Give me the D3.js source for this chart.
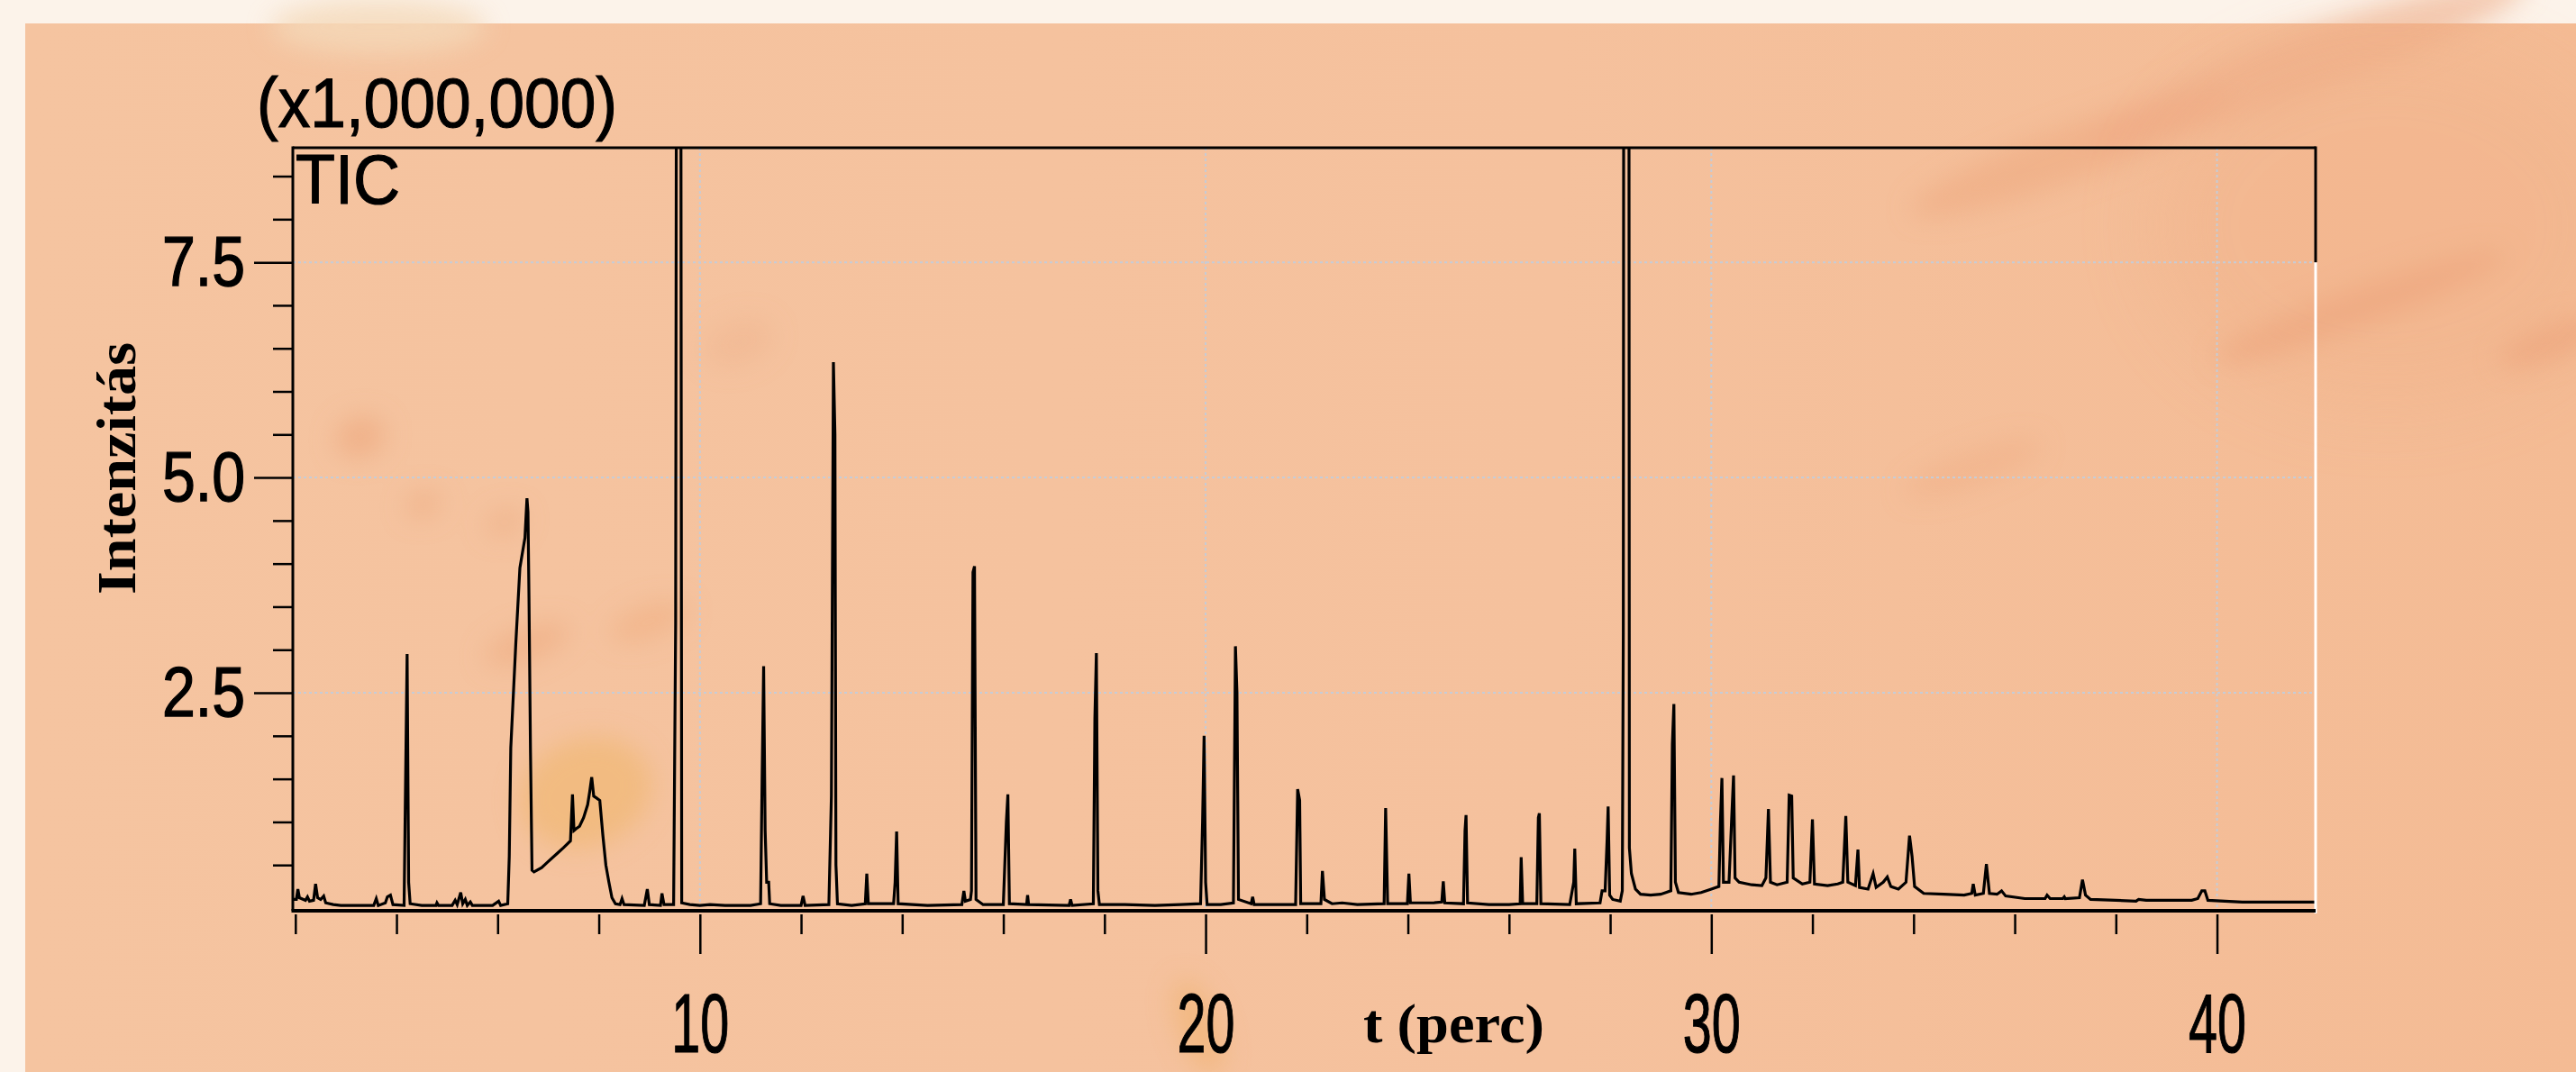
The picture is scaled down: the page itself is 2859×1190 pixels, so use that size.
<!DOCTYPE html>
<html>
<head>
<meta charset="utf-8">
<script src="https://cdn.jsdelivr.net/npm/d3@7"></script>
<style>
  html, body { margin: 0; padding: 0; background: #fcf3ea; }
  svg { display: block; }
</style>
</head>
<body>
<svg id="chart" width="2859" height="1190"></svg>
<script>
// ========= Data: time in minutes, intensity in x1,000,000
const trace = [
  [1.95, 0.10], [2.02, 0.10], [2.05, 0.22], [2.08, 0.12], [2.20, 0.09], [2.24, 0.13], [2.28, 0.08],
  [2.36, 0.09], [2.40, 0.28], [2.44, 0.12], [2.50, 0.10], [2.56, 0.14], [2.60, 0.06], [2.75, 0.04],
  [2.90, 0.03], [3.20, 0.03], [3.55, 0.03], [3.60, 0.11], [3.64, 0.03], [3.78, 0.06], [3.82, 0.13],
  [3.88, 0.15], [3.93, 0.04], [4.15, 0.03], [4.18, 1.50], [4.21, 2.95], [4.24, 0.30], [4.27, 0.05],
  [4.50, 0.03], [4.78, 0.03], [4.80, 0.06], [4.83, 0.03], [5.10, 0.03], [5.16, 0.09], [5.20, 0.04],
  [5.27, 0.18], [5.31, 0.05], [5.36, 0.10], [5.40, 0.03], [5.46, 0.07], [5.50, 0.03], [5.90, 0.03],
  [6.02, 0.08], [6.06, 0.03], [6.20, 0.05], [6.23, 0.60], [6.26, 1.86], [6.36, 3.08], [6.44, 3.95],
  [6.54, 4.30], [6.58, 4.76], [6.60, 4.60], [6.62, 3.60], [6.65, 1.80], [6.68, 0.44], [6.72, 0.42],
  [6.87, 0.47], [7.00, 0.54], [7.17, 0.63], [7.30, 0.70], [7.44, 0.78], [7.48, 1.32], [7.51, 0.90],
  [7.55, 0.92], [7.62, 0.95], [7.70, 1.05], [7.78, 1.20], [7.82, 1.35], [7.86, 1.52], [7.90, 1.30],
  [7.95, 1.28], [8.02, 1.25], [8.08, 0.85], [8.14, 0.50], [8.20, 0.30], [8.26, 0.12], [8.33, 0.05],
  [8.42, 0.04], [8.46, 0.11], [8.50, 0.04], [8.90, 0.03], [8.96, 0.22], [9.00, 0.04], [9.22, 0.03],
  [9.25, 0.17], [9.29, 0.04], [9.48, 0.04], [9.52, 3.30], [9.54, 12], [9.62, 12], [9.64, 0.06],
  [9.80, 0.04], [10.00, 0.03], [10.20, 0.04], [10.50, 0.03], [11.00, 0.03], [11.20, 0.05], [11.23, 1.50],
  [11.26, 2.81], [11.29, 0.90], [11.32, 0.30], [11.36, 0.30], [11.38, 0.05], [11.60, 0.03], [12.00, 0.03],
  [12.04, 0.14], [12.08, 0.03], [12.55, 0.04], [12.60, 1.30], [12.64, 6.34], [12.67, 5.50], [12.69, 0.50],
  [12.72, 0.05], [13.00, 0.03], [13.27, 0.05], [13.30, 0.40], [13.33, 0.05], [13.83, 0.05], [13.86, 0.30],
  [13.89, 0.89], [13.92, 0.05], [14.50, 0.03], [15.18, 0.04], [15.22, 0.20], [15.25, 0.08], [15.35, 0.10],
  [15.37, 0.20], [15.40, 3.90], [15.43, 3.97], [15.46, 0.10], [15.60, 0.04], [16.00, 0.04], [16.06, 1.00],
  [16.09, 1.32], [16.12, 0.05], [16.46, 0.04], [16.48, 0.15], [16.50, 0.04], [17.30, 0.03], [17.33, 0.10],
  [17.36, 0.03], [17.78, 0.05], [17.81, 2.20], [17.84, 2.96], [17.87, 0.20], [17.90, 0.04], [18.40, 0.04],
  [19.00, 0.03], [19.50, 0.04], [19.90, 0.05], [19.94, 1.00], [19.97, 2.00], [20.00, 0.30], [20.03, 0.04],
  [20.30, 0.04], [20.55, 0.06], [20.59, 3.04], [20.62, 2.50], [20.65, 0.10], [20.90, 0.05], [20.93, 0.13],
  [20.96, 0.04], [21.78, 0.04], [21.82, 1.38], [21.86, 1.25], [21.88, 0.05], [22.28, 0.05], [22.31, 0.43],
  [22.35, 0.10], [22.50, 0.05], [22.70, 0.06], [23.00, 0.04], [23.53, 0.05], [23.56, 1.16], [23.60, 0.05],
  [23.99, 0.05], [24.02, 0.40], [24.05, 0.06], [24.50, 0.06], [24.67, 0.07], [24.70, 0.31], [24.73, 0.06],
  [25.10, 0.05], [25.13, 0.90], [25.15, 1.08], [25.18, 0.06], [25.60, 0.04], [26.00, 0.04], [26.22, 0.05],
  [26.24, 0.59], [26.27, 0.05], [26.55, 0.05], [26.58, 1.05], [26.60, 1.10], [26.63, 0.05], [27.20, 0.04],
  [27.28, 0.30], [27.30, 0.69], [27.33, 0.05], [27.80, 0.06], [27.84, 0.20], [27.90, 0.20], [27.94, 0.80],
  [27.96, 1.18], [27.99, 0.15], [28.05, 0.10], [28.20, 0.08], [28.24, 0.20], [28.26, 3.20], [28.27, 12],
  [28.37, 12], [28.38, 0.70], [28.42, 0.40], [28.50, 0.22], [28.60, 0.16], [28.80, 0.15], [29.00, 0.16],
  [29.20, 0.20], [29.23, 1.90], [29.26, 2.37], [29.29, 0.30], [29.35, 0.18], [29.60, 0.16], [29.80, 0.18],
  [30.00, 0.22], [30.15, 0.25], [30.18, 1.00], [30.21, 1.51], [30.24, 0.30], [30.35, 0.30], [30.40, 1.00],
  [30.44, 1.54], [30.47, 0.35], [30.55, 0.30], [30.80, 0.27], [31.00, 0.26], [31.08, 0.35], [31.13, 1.15],
  [31.17, 0.30], [31.30, 0.27], [31.50, 0.30], [31.54, 1.31], [31.59, 1.30], [31.62, 0.35], [31.80, 0.28],
  [31.95, 0.30], [32.00, 1.03], [32.04, 0.28], [32.30, 0.26], [32.50, 0.28], [32.60, 0.30], [32.66, 1.07],
  [32.70, 0.30], [32.85, 0.26], [32.90, 0.68], [32.93, 0.24], [33.10, 0.22], [33.20, 0.40], [33.26, 0.24],
  [33.40, 0.30], [33.48, 0.36], [33.55, 0.25], [33.70, 0.22], [33.85, 0.30], [33.92, 0.84], [33.97, 0.60],
  [34.02, 0.25], [34.20, 0.17], [34.60, 0.16], [35.00, 0.15], [35.15, 0.17], [35.18, 0.28], [35.22, 0.15],
  [35.38, 0.17], [35.44, 0.51], [35.50, 0.17], [35.65, 0.16], [35.74, 0.20], [35.82, 0.14], [36.20, 0.11],
  [36.60, 0.11], [36.64, 0.15], [36.70, 0.11], [36.95, 0.11], [36.98, 0.13], [37.00, 0.11], [37.28, 0.12],
  [37.34, 0.33], [37.40, 0.15], [37.50, 0.10], [38.00, 0.09], [38.40, 0.08], [38.45, 0.10], [38.60, 0.09],
  [39.50, 0.09], [39.62, 0.11], [39.70, 0.20], [39.76, 0.20], [39.82, 0.09], [40.50, 0.07], [41.95, 0.07]
];

const xDomain = [1.95, 41.95];
const yDomain = [0, 8.83];
const xMajorTicks = [10, 20, 30, 40];
const xMinorTicks = [2, 4, 6, 8, 12, 14, 16, 18, 22, 24, 26, 28, 32, 34, 36, 38];
const yMajorTicks = [2.5, 5.0, 7.5];
const yMinorTicks = [0.5, 1, 1.5, 2, 3, 3.5, 4, 4.5, 5.5, 6, 6.5, 7, 8, 8.5];

const scaleLabel = "(x1,000,000)";
const traceLabel = "TIC";
const yTitle = "Intenzitás";
const xTitle = "t (perc)";

// ========= Layout
const svg = d3.select("#chart");
const W = 2859, H = 1190;
const plot = { left: 325, right: 2570, top: 164, bottom: 1008 };
const axisY = 1011;

const x = d3.scaleLinear().domain(xDomain).range([plot.left, plot.right]);
const y = d3.scaleLinear().domain(yDomain).range([plot.bottom, plot.top]);

const narrow = "'Liberation Sans Narrow', 'Arial Narrow', 'Liberation Sans', Arial, sans-serif";
const serif = "'Liberation Serif', 'DejaVu Serif', serif";

// ========= Background (peach paper with soft blotches)
const defs = svg.append("defs");
defs.append("filter").attr("id", "blur").attr("x", "-50%").attr("y", "-50%")
    .attr("width", "200%").attr("height", "200%")
    .append("feGaussianBlur").attr("stdDeviation", 14);
defs.append("filter").attr("id", "blurBig").attr("x", "-50%").attr("y", "-50%")
    .attr("width", "200%").attr("height", "200%")
    .append("feGaussianBlur").attr("stdDeviation", 40);
defs.append("clipPath").attr("id", "plotClip")
    .append("rect")
    .attr("x", plot.left).attr("y", plot.top)
    .attr("width", plot.right - plot.left).attr("height", axisY - plot.top);

const grad = defs.append("linearGradient").attr("id", "paper")
    .attr("x1", 0).attr("y1", 0).attr("x2", 1).attr("y2", 0);
grad.append("stop").attr("offset", "0%").attr("stop-color", "#f5c4a0");
grad.append("stop").attr("offset", "60%").attr("stop-color", "#f5c19d");
grad.append("stop").attr("offset", "100%").attr("stop-color", "#f4bb94");

svg.append("rect").attr("width", W).attr("height", H).attr("fill", "#fcf3ea");
svg.append("rect")
    .attr("x", 28).attr("y", 26)
    .attr("width", W - 28).attr("height", H - 26)
    .attr("fill", "url(#paper)");

const blotches = svg.append("g").attr("filter", "url(#blur)");
[
  [650, 880, 75, 60, "#f0b877", 0.75], [400, 485, 28, 22, "#eeaa80", 0.7], [470, 560, 20, 14, "#eeaa80", 0.6],
  [560, 580, 22, 14, "#eeaa80", 0.5], [585, 715, 50, 18, "#eeaa80", 0.6], [720, 690, 45, 18, "#efac7c", 0.5],
  [1330, 1140, 22, 55, "#f0b36e", 0.6], [2300, 170, 190, 30, "#efaa82", 0.6], [2620, 340, 170, 22, "#eda47c", 0.7],
  [2830, 380, 60, 18, "#eda47c", 0.7], [2560, 70, 260, 35, "#eeac85", 0.55], [2190, 520, 80, 18, "#efae86", 0.5],
  [820, 380, 40, 25, "#efb08a", 0.35]
].forEach(([cx, cy, rx, ry, c, o]) => {
  blotches.append("ellipse")
      .attr("cx", cx).attr("cy", cy).attr("rx", rx).attr("ry", ry)
      .attr("fill", c).attr("opacity", o)
      .attr("transform", `rotate(-20 ${cx} ${cy})`);
});
svg.append("ellipse").attr("cx", 2650).attr("cy", 250).attr("rx", 260).attr("ry", 200)
    .attr("fill", "#f0b088").attr("opacity", 0.35).attr("filter", "url(#blurBig)");
svg.append("ellipse").attr("cx", 420).attr("cy", 30).attr("rx", 120).attr("ry", 30)
    .attr("fill", "#f4d9b9").attr("opacity", 0.8).attr("filter", "url(#blur)");

// ========= Gridlines
const grid = svg.append("g")
    .attr("stroke", "#c6ccd6")
    .attr("stroke-width", 2)
    .attr("stroke-dasharray", "3,3");

grid.selectAll("line.gy")
  .data(yMajorTicks)
  .enter().append("line")
    .attr("class", "gy")
    .attr("x1", plot.left).attr("x2", plot.right)
    .attr("y1", d => y(d)).attr("y2", d => y(d));

grid.selectAll("line.gx")
  .data(xMajorTicks)
  .enter().append("line")
    .attr("class", "gx")
    .attr("x1", d => x(d)).attr("x2", d => x(d))
    .attr("y1", plot.top).attr("y2", axisY);

// ========= Chromatogram trace
const line = d3.line()
    .x(d => x(d[0]))
    .y(d => y(d[1]));

svg.append("path")
    .datum(trace)
    .attr("clip-path", "url(#plotClip)")
    .attr("fill", "none")
    .attr("stroke", "#000")
    .attr("stroke-width", 3.2)
    .attr("stroke-linejoin", "miter")
    .attr("d", line);

// ========= Frame
const frame = svg.append("g").attr("fill", "none");
frame.append("line").attr("x1", plot.left).attr("x2", plot.right)
    .attr("y1", plot.top).attr("y2", plot.top)
    .attr("stroke", "#000").attr("stroke-width", 3);
frame.append("line").attr("x1", plot.left).attr("x2", plot.left)
    .attr("y1", plot.top - 1.5).attr("y2", axisY)
    .attr("stroke", "#000").attr("stroke-width", 3);
frame.append("line").attr("x1", plot.right).attr("x2", plot.right)
    .attr("y1", y(7.5)).attr("y2", axisY + 3)
    .attr("stroke", "#fff").attr("stroke-width", 3);
frame.append("line").attr("x1", plot.right).attr("x2", plot.right)
    .attr("y1", plot.top - 1.5).attr("y2", y(7.5))
    .attr("stroke", "#000").attr("stroke-width", 3);
frame.append("line").attr("x1", plot.left - 1.5).attr("x2", plot.right)
    .attr("y1", axisY).attr("y2", axisY)
    .attr("stroke", "#000").attr("stroke-width", 4);

// ========= Axes
function styleAxis(g) {
  g.select(".domain").remove();
  g.selectAll(".tick line").attr("stroke", "#000").attr("stroke-width", 2.5);
}

svg.append("g")
    .attr("transform", `translate(${plot.left},0)`)
    .call(d3.axisLeft(y).tickValues(yMinorTicks).tickSize(22).tickFormat(""))
    .call(styleAxis);

svg.append("g")
    .attr("transform", `translate(${plot.left},0)`)
    .call(d3.axisLeft(y).tickValues(yMajorTicks).tickSize(43).tickPadding(10).tickFormat(d3.format(".1f")))
    .call(styleAxis)
    .call(g => g.selectAll("text")
        .attr("fill", "#000")
        .attr("stroke", "#000").attr("stroke-width", 1.4)
        .attr("font-family", narrow)
        .attr("font-size", 78)
        .attr("textLength", 92)
        .attr("lengthAdjust", "spacingAndGlyphs"));

svg.append("g")
    .attr("transform", `translate(0,${axisY + 4})`)
    .call(d3.axisBottom(x).tickValues(xMinorTicks).tickSize(22).tickFormat(""))
    .call(styleAxis);

svg.append("g")
    .attr("transform", `translate(0,${axisY + 4})`)
    .call(d3.axisBottom(x).tickValues(xMajorTicks).tickSize(44).tickFormat(d3.format("d")))
    .call(styleAxis)
    .call(g => g.selectAll("text")
        .attr("fill", "#000")
        .attr("stroke", "#000").attr("stroke-width", 1.2)
        .attr("y", 153)
        .attr("dy", 0)
        .attr("font-family", narrow)
        .attr("font-size", 92)
        .attr("textLength", 64)
        .attr("lengthAdjust", "spacingAndGlyphs"));

// ========= Labels
svg.append("text")
    .attr("x", 285).attr("y", 141)
    .attr("font-family", narrow).attr("font-size", 78)
    .attr("stroke", "#000").attr("stroke-width", 1.2)
    .attr("textLength", 400).attr("lengthAdjust", "spacingAndGlyphs")
    .text(scaleLabel);

svg.append("text")
    .attr("x", 328).attr("y", 226)
    .attr("font-family", narrow).attr("font-size", 78)
    .attr("stroke", "#000").attr("stroke-width", 1.2)
    .attr("textLength", 116).attr("lengthAdjust", "spacingAndGlyphs")
    .text(traceLabel);

svg.append("text")
    .attr("transform", "translate(150,520) rotate(-90)")
    .attr("text-anchor", "middle")
    .attr("font-family", serif).attr("font-weight", "bold").attr("font-size", 62)
    .attr("textLength", 280).attr("lengthAdjust", "spacingAndGlyphs")
    .text(yTitle);

svg.append("text")
    .attr("x", 1513).attr("y", 1157)
    .attr("font-family", serif).attr("font-weight", "bold").attr("font-size", 62)
    .attr("textLength", 201).attr("lengthAdjust", "spacingAndGlyphs")
    .text(xTitle);
</script>
</body>
</html>
